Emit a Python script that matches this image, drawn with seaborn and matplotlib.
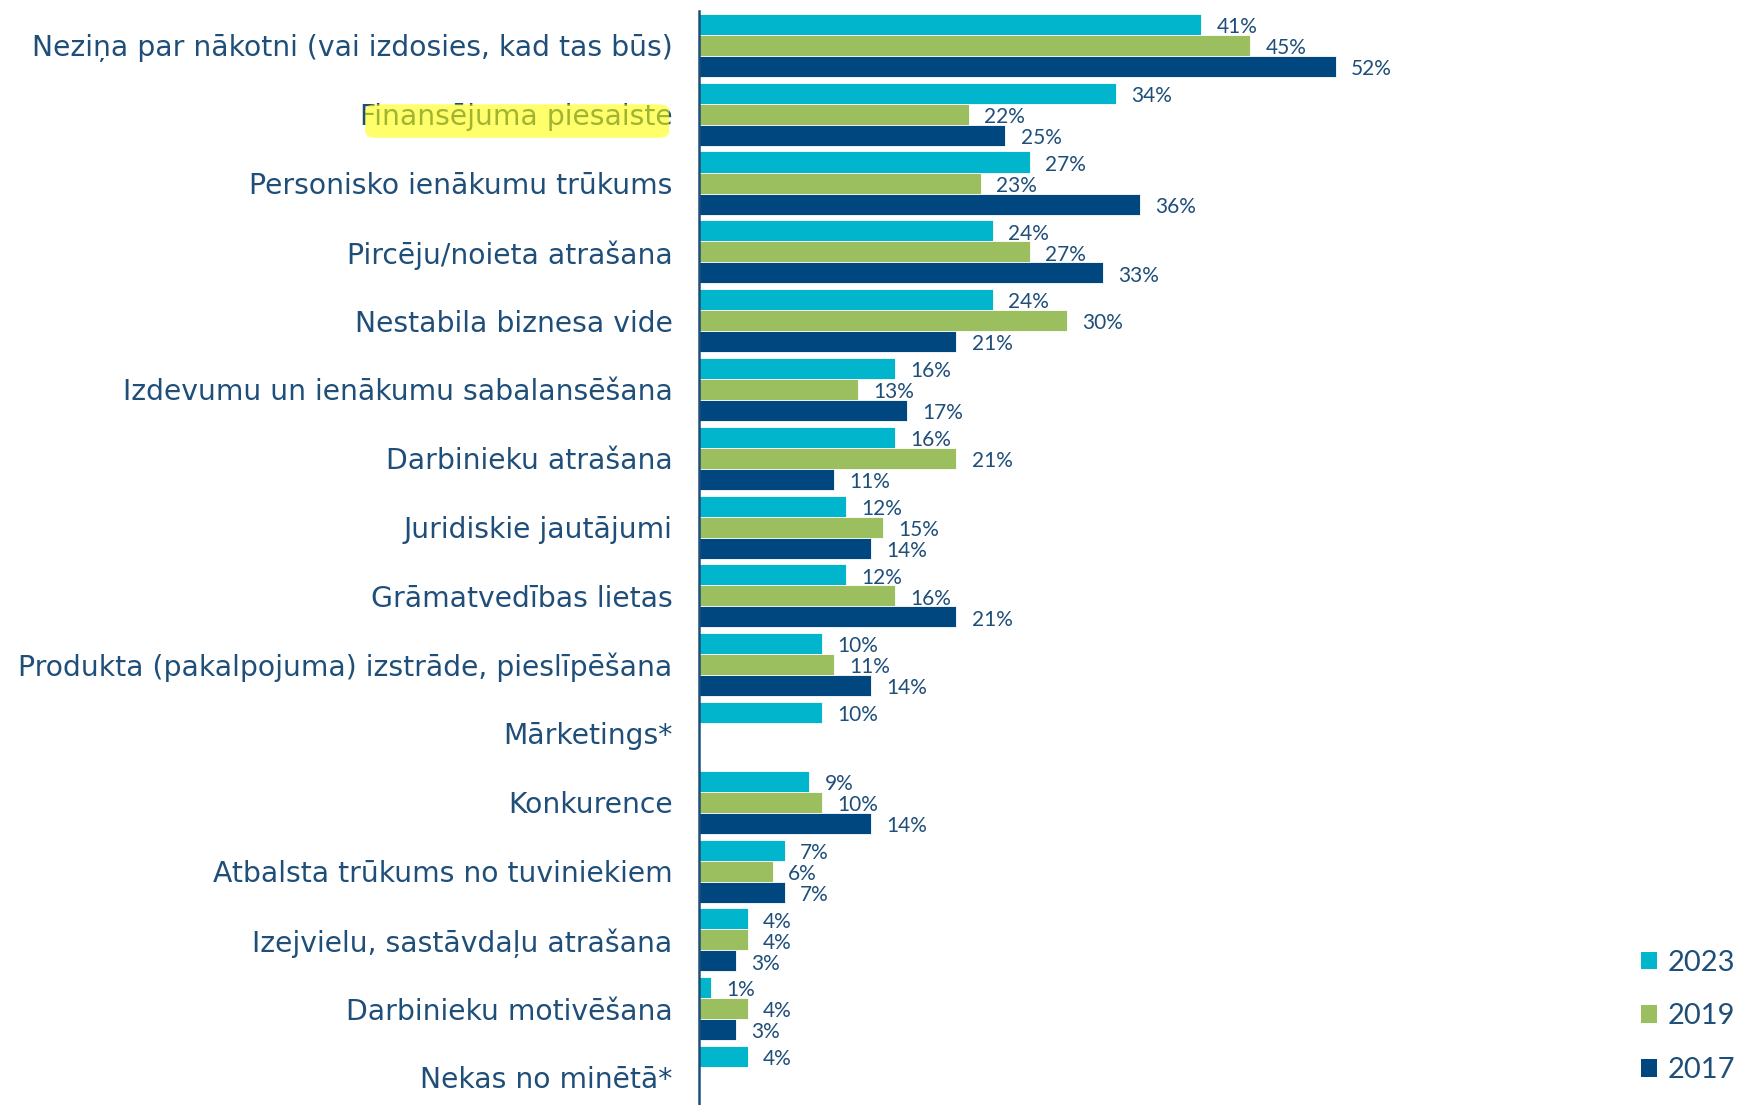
import matplotlib
matplotlib.use("Agg")
import matplotlib.pyplot as plt
from matplotlib.patches import Patch, FancyBboxPatch
import numpy as np
import pandas as pd
import seaborn as sns

categories = [
    "Neziņa par nākotni (vai izdosies, kad tas būs)",
    "Finansējuma piesaiste",
    "Personisko ienākumu trūkums",
    "Pircēju/noieta atrašana",
    "Nestabila biznesa vide",
    "Izdevumu un ienākumu sabalansēšana",
    "Darbinieku atrašana",
    "Juridiskie jautājumi",
    "Grāmatvedības lietas",
    "Produkta (pakalpojuma) izstrāde, pieslīpēšana",
    "Mārketings*",
    "Konkurence",
    "Atbalsta trūkums no tuviniekiem",
    "Izejvielu, sastāvdaļu atrašana",
    "Darbinieku motivēšana",
    "Nekas no minētā*",
]
years = ["2023", "2019", "2017"]
v2023 = [41, 34, 27, 24, 24, 16, 16, 12, 12, 10, 10, 9, 7, 4, 1, 4]
v2019 = [45, 22, 23, 27, 30, 13, 21, 15, 16, 11, np.nan, 10, 6, 4, 4, np.nan]
v2017 = [52, 25, 36, 33, 21, 17, 11, 14, 21, 14, np.nan, 14, 7, 3, 3, np.nan]
highlighted = "Finansējuma piesaiste"

colors = {"2023": "#00B5CC", "2019": "#9BBF5F", "2017": "#00467F"}
text_color = "#1F4E79"

rows = []
for yr, vals in zip(years, [v2023, v2019, v2017]):
    for cat, v in zip(categories, vals):
        rows.append({"category": cat, "year": yr, "value": v})
df = pd.DataFrame(rows)

sns.set_style("white")
plt.rcParams["font.family"] = ["Lato", "DejaVu Sans"]

fig = plt.figure(figsize=(17.42, 11.05), dpi=100)
ax = fig.add_axes([699 / 1742, 0, 1 - 699 / 1742, 1094 / 1105])

sns.barplot(
    data=df, x="value", y="category", hue="year",
    order=categories, hue_order=years, palette=colors, saturation=1,
    orient="h", width=0.916, errorbar=None, ax=ax,
    edgecolor="white", linewidth=0.6,
)

for cont in ax.containers:
    widths = [b.get_width() for b in cont]
    labels = ["" if (np.isnan(w) or w == 0) else f"{w:.0f}%" for w in widths]
    texts = ax.bar_label(cont, labels=labels, fontsize=15, color=text_color)
    for t in texts:
        t.xyann = (11, -2)

# 12.25 px per percentage point
ax.set_xlim(0, (1742 - 699) / 12.25)
ax.set_ylim(15.40, -0.5)
ax.set_xticks([])
ax.set_xlabel("")
ax.set_ylabel("")
ax.tick_params(axis="y", length=0, pad=19, labelsize=20.3, labelcolor=text_color)
for lab in ax.get_yticklabels():
    lab.set_family(["DejaVu Sans"])
for s in ["top", "right", "bottom"]:
    ax.spines[s].set_visible(False)
ax.spines["left"].set_color(text_color)
ax.spines["left"].set_linewidth(1.8)

ax.get_legend().remove()
handles = [Patch(facecolor=colors[y], edgecolor="none", label=y) for y in years]
leg = fig.legend(handles=handles, loc="lower right", bbox_to_anchor=(1.011, -0.004),
                 frameon=False, fontsize=21, handlelength=0.55, handleheight=0.55,
                 handletextpad=0.35, labelspacing=0.95)
for t in leg.get_texts():
    t.set_color(text_color)

# yellow marker highlight over one label
fig.canvas.draw()
renderer = fig.canvas.get_renderer()
for lab in ax.get_yticklabels():
    if lab.get_text() == highlighted:
        bb = lab.get_window_extent(renderer).transformed(fig.transFigure.inverted())
        hl = FancyBboxPatch(
            (bb.x0 + 0.003, bb.y0 - 0.006), bb.width - 0.005, bb.height + 0.005,
            boxstyle="round,pad=0.0,rounding_size=0.006",
            transform=fig.transFigure, facecolor="#FFFF00", edgecolor="none",
            alpha=0.58, zorder=10,
        )
        fig.patches.append(hl)

fig.savefig("out.png", dpi=100)
